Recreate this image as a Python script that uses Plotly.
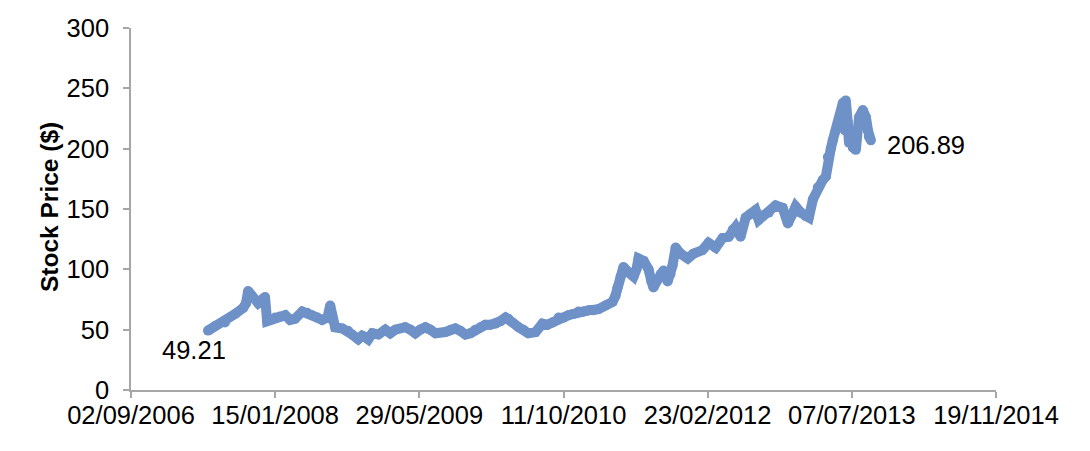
import plotly.graph_objects as go

dates = [
    "2007-05-27", "2007-06-21", "2007-07-25", "2007-08-29", "2007-09-26", "2007-10-06",
    "2007-10-13", "2007-10-20", "2007-10-31", "2007-11-17", "2007-12-01", "2007-12-11",
    "2007-12-18", "2007-12-29", "2008-01-15", "2008-02-01", "2008-02-19", "2008-03-07",
    "2008-03-24", "2008-04-18", "2008-05-05", "2008-05-22", "2008-06-09", "2008-06-26",
    "2008-07-14", "2008-07-24", "2008-07-31", "2008-08-10", "2008-09-04", "2008-09-24",
    "2008-10-08", "2008-10-29", "2008-11-12", "2008-11-22", "2008-12-03", "2008-12-17",
    "2009-01-07", "2009-01-31", "2009-02-17", "2009-03-07", "2009-04-10", "2009-04-28",
    "2009-05-15", "2009-06-01", "2009-06-19", "2009-07-06", "2009-07-24", "2009-08-27",
    "2009-09-14", "2009-10-01", "2009-10-18", "2009-11-05", "2009-11-22", "2009-12-09",
    "2009-12-27", "2010-01-13", "2010-01-30", "2010-02-17", "2010-03-06", "2010-03-24",
    "2010-04-03", "2010-04-17", "2010-05-08", "2010-05-25", "2010-06-11", "2010-07-06",
    "2010-07-30", "2010-08-16", "2010-09-03", "2010-09-24", "2010-10-11", "2010-10-28",
    "2010-11-15", "2010-12-02", "2010-12-19", "2011-01-06", "2011-01-23", "2011-02-09",
    "2011-03-06", "2011-03-30", "2011-04-09", "2011-04-16", "2011-04-27", "2011-05-07",
    "2011-05-18", "2011-06-01", "2011-06-11", "2011-06-21", "2011-06-28", "2011-07-16",
    "2011-08-02", "2011-08-12", "2011-08-19", "2011-08-30", "2011-09-13", "2011-09-23",
    "2011-10-07", "2011-10-17", "2011-10-24", "2011-11-04", "2011-11-21", "2011-12-16",
    "2012-01-05", "2012-02-05", "2012-02-26", "2012-03-22", "2012-04-15", "2012-05-06",
    "2012-05-20", "2012-05-30", "2012-06-16", "2012-07-04", "2012-07-21", "2012-08-07",
    "2012-08-18", "2012-09-04", "2012-09-22", "2012-10-16", "2012-11-09", "2012-11-27",
    "2012-12-11", "2012-12-24", "2013-01-11", "2013-01-28", "2013-02-08", "2013-02-22",
    "2013-03-11", "2013-03-28", "2013-04-08", "2013-04-15", "2013-04-25", "2013-05-02",
    "2013-05-12", "2013-05-19", "2013-05-30", "2013-06-06", "2013-06-13", "2013-06-16",
    "2013-06-23", "2013-06-27", "2013-07-04", "2013-07-11", "2013-07-21", "2013-08-01",
    "2013-08-14", "2013-08-25", "2013-09-01", "2013-09-04", "2013-09-11",
]

prices = [
    49.21, 53, 56, 63, 68, 72,
    82, 80, 76, 72, 75, 77,
    57, 58, 60, 61, 62, 58,
    59, 65, 64, 62, 60, 58,
    60, 70, 58, 52, 51, 49,
    46, 42, 45, 44, 42, 47,
    46, 50, 47, 50, 52, 50,
    47, 50, 52, 50, 47, 48,
    50, 51, 49, 46, 47, 50,
    52, 54, 54, 55, 57, 60,
    59, 56, 52, 50, 47, 48,
    55, 54, 56, 60, 60, 62,
    63, 65, 65, 66, 66, 67,
    70, 73, 78, 85, 94, 102,
    99, 96, 94, 100, 109, 107,
    100, 90, 85, 90, 96, 99,
    90, 96, 103, 118, 113, 109,
    113, 116, 122, 118, 126, 127,
    133, 135, 127, 143, 146, 149,
    141, 145, 147, 153, 151, 138,
    145, 152, 147, 144, 143, 158,
    168, 174, 177, 193, 200, 207,
    215, 221, 230, 238, 215, 240,
    222, 205, 215, 201, 199, 226,
    232, 226, 215, 210, 206.89,
]

tick_dates = ["2006-09-02", "2008-01-15", "2009-05-29", "2010-10-11",
              "2012-02-23", "2013-07-07", "2014-11-19"]
tick_labels = ["02/09/2006", "15/01/2008", "29/05/2009", "11/10/2010",
               "23/02/2012", "07/07/2013", "19/11/2014"]

y_title = "Stock Price ($)"
line_color = "#6E91C8"
axis_color = "#A6A6A6"
font_family = "Liberation Sans, Arial, sans-serif"

fig = go.Figure()
fig.add_trace(go.Scatter(
    x=dates, y=prices, mode="lines+markers",
    line=dict(color=line_color, width=10),
    marker=dict(color=line_color, size=10),
    showlegend=False, hoverinfo="skip",
))

fig.update_layout(
    width=1082, height=443,
    margin=dict(l=123, r=94, t=20, b=61, autoexpand=False),
    paper_bgcolor="white", plot_bgcolor="white",
    font=dict(family=font_family, size=25.5, color="black"),
    xaxis=dict(
        type="date", range=[tick_dates[0], tick_dates[-1]],
        tickvals=tick_dates, ticktext=tick_labels,
        showgrid=False, zeroline=False, automargin=False,
        showline=True, linecolor=axis_color, linewidth=1.5,
        ticks="outside", ticklen=6, tickcolor=axis_color, tickwidth=1.5,
        tickfont=dict(size=25.5), ticklabelstandoff=-4,
    ),
    yaxis=dict(
        range=[0, 300], tickvals=[0, 50, 100, 150, 200, 250, 300],
        showgrid=False, zeroline=False, automargin=False,
        showline=True, linecolor=axis_color, linewidth=1.5,
        ticks="outside", ticklen=6, tickcolor=axis_color, tickwidth=1.5,
        tickfont=dict(size=25.5), ticklabelstandoff=9,
    ),
    annotations=[
        dict(text="<b>" + y_title + "</b>", xref="paper", yref="paper", x=-0.095, y=0.505,
             textangle=-90, showarrow=False, xanchor="center", yanchor="middle",
             font=dict(size=24.5, family=font_family, color="black")),
        dict(text=f"{prices[0]:.2f}", xref="paper", yref="paper", x=0.0728, y=0.1105,
             showarrow=False, xanchor="center", yanchor="middle",
             font=dict(size=25.5, color="black")),
        dict(text=f"{prices[-1]:.2f}", xref="paper", yref="paper", x=0.919, y=0.677,
             showarrow=False, xanchor="center", yanchor="middle",
             font=dict(size=25.5, color="black")),
    ],
)

fig.write_html("out.html")
